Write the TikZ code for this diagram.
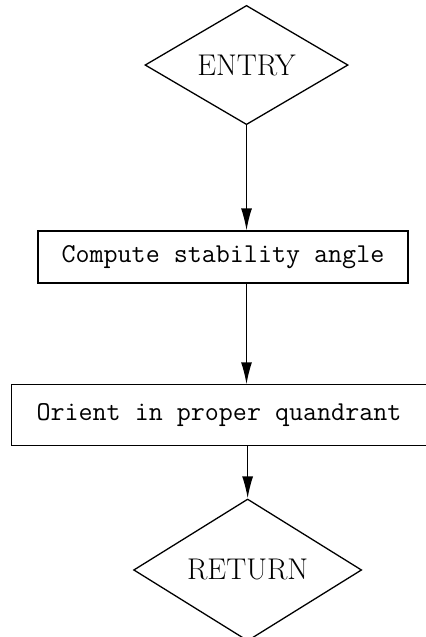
\documentclass[tikz,border=0pt]{standalone}
\usepackage{tikz}
\usetikzlibrary{shapes.geometric,arrows.meta,positioning}

\begin{document}
\begin{tikzpicture}[
    term/.style={diamond, draw, line width=1.3pt, inner sep=0pt, font=\fontsize{30}{36}\selectfont},
    box/.style={rectangle, draw, line width=1.3pt, inner sep=0pt, font=\fontsize{27.3}{33}\selectfont\ttfamily},
    arrow/.style={-{Latex[length=22pt,width=11pt]}, line width=1.3pt}
]
    \useasboundingbox (0,0) rectangle (15,-22.43);

    \node[term, minimum width=7.15cm, minimum height=4.08cm] (entry) at (8.68,-2.29) {ENTRY};
    \node[box, minimum width=13.03cm, minimum height=1.83cm] (compute) at (7.85,-9.05) {Compute stability angle};
    \node[box, draw=none, minimum width=14.58cm, minimum height=2.11cm] (orient) at (7.71,-14.61) {Orient in proper quandrant};
    \node[term, minimum width=8.03cm, minimum height=4.58cm] (return) at (8.72,-20.07) {RETURN};

    % box cut off on the right
    \draw[line width=1.3pt] (orient.north east) -- (orient.north west) -- (orient.south west) -- (orient.south east);

    \draw[arrow] (entry.south) -- (entry.south |- compute.north);
    \draw[arrow] (entry.south |- compute.south) -- (entry.south |- orient.north);
    \draw[arrow] (return.north |- orient.south) -- (return.north);
\end{tikzpicture}
\end{document}
